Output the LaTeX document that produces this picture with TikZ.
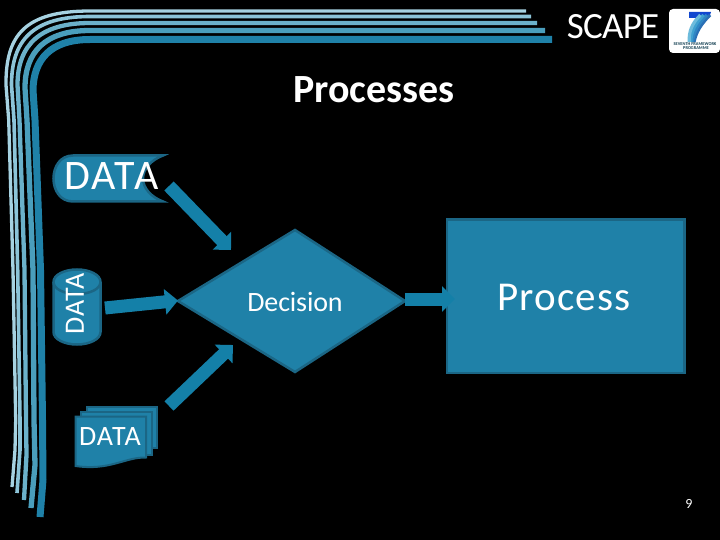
\documentclass[tikz,border=0pt]{standalone}
\usepackage{fontspec}
\setmainfont{Carlito}
\usetikzlibrary{arrows.meta}
\definecolor{fillb}{HTML}{1F81A8}
\definecolor{edgeb}{HTML}{1B6685}
\definecolor{arrowb}{HTML}{1480A8}
\definecolor{s1}{HTML}{A6D2E1}
\definecolor{s2}{HTML}{8CC4D8}
\definecolor{s3}{HTML}{6BB1CA}
\definecolor{s4}{HTML}{4A9EBC}
\definecolor{s5}{HTML}{1F81A8}
\newcommand{\fs}[1]{\fontsize{#1}{#1}\selectfont}
\tikzset{
  shapeb/.style={fill=fillb,draw=edgeb,line width=2.5pt,line join=miter},
  flow/.style={draw=arrowb,line width=13pt,-{Triangle[length=13pt,width=25pt]}},
  strip/.style={line cap=butt,line join=round},
  txt/.style={text=white,inner sep=0pt,outer sep=0pt,anchor=center}
}
\begin{document}
\begin{tikzpicture}[x=1pt,y=-1pt]
\fill[black] (0,0) rectangle (720,540);
\useasboundingbox (0,0) rectangle (720,540);
% corner strips
\draw[strip,s1,line width=3.3pt] (526,11) -- (90,11) .. controls (25,11) and (5.5,35) .. (6,85) -- (8.7,120) -- (13,270) -- (15.7,420) -- (15,450) -- (12,487);
\draw[strip,s2,line width=3.6pt] (531,16.5) -- (90,16.5) .. controls (33,16.5) and (11.5,40) .. (11.5,85) -- (14,120) -- (17.7,270) -- (20,420) -- (20,450) -- (17,493);
\draw[strip,s3,line width=4.3pt] (537,23) -- (90,23) .. controls (40,23) and (17.5,45) .. (17.5,85) -- (19.5,120) -- (24.5,270) -- (26,420) -- (26.5,455) -- (24,500);
\draw[strip,s4,line width=5.3pt] (545,30.5) -- (90,30.5) .. controls (45,30.5) and (25,52) .. (25,88) -- (27,120) -- (33,270) -- (34,420) -- (35,465) -- (31,508);
\draw[strip,s5,line width=7pt] (552,39.5) -- (90,39.5) .. controls (50,39.5) and (33.5,60) .. (33,90) -- (35,120) -- (40.5,270) -- (42.5,420) -- (43,480) -- (40,517);
% SCAPE + logo
\node[txt] (scape) at (613,27) {\fs{37}\addfontfeatures{LetterSpace=-2}SCAPE};
\fill[white,rounded corners=4pt] (669,9) rectangle (720,53);
\fill[blue!45!fillb] (689,12) -- (711,12) -- (709,18) -- (689,18) -- cycle;
\foreach \d/\c in {0/2A6FB5,4/2F86C4,8/3FA0D0,12/6DBBDC}{
  \definecolor{sv}{HTML}{\c}
  \draw[sv,line width=3.2pt] (710-\d*0.8,15) .. controls (701-\d*0.8,24) and (696-\d*0.6,32) .. (694-\d*0.4,42);
}
\node[txt,text=edgeb!60!black] (fp7a) at (695,44.5) {\fs{4.4}\bfseries SEVENTH FRAMEWORK};
\node[txt,text=edgeb!60!black] (fp7b) at (696,48.5) {\fs{4.4}\bfseries PROGRAMME};
% title
\node[txt] (title) at (374,90) {\fs{40}\bfseries Processes};
% horizontal database
\draw[shapeb] (163,155.5) -- (73,155.5) .. controls (60,155.5) and (53.5,167) .. (53.5,178.5) .. controls (53.5,190) and (60,201.5) .. (73,201.5) -- (163,201.5) .. controls (151,197) and (143,188) .. (143,178.5) .. controls (143,169) and (151,160) .. (163,155.5) -- cycle;
\node[txt] (dbh) at (111.5,176) {\fs{42}\addfontfeatures{LetterSpace=5}DATA};
% vertical database
\draw[shapeb] (53.5,282) -- (53.5,332) .. controls (53.5,339) and (64,344.5) .. (77,344.5) .. controls (90,344.5) and (100.5,339) .. (100.5,332) -- (100.5,282) .. controls (100.5,275) and (90,269.5) .. (77,269.5) .. controls (64,269.5) and (53.5,275) .. (53.5,282) -- cycle;
\draw[edgeb,line width=2.5pt] (53.5,282) .. controls (53.5,289) and (64,294) .. (77,294) .. controls (90,294) and (100.5,289) .. (100.5,282);
\node[txt,rotate=90] (dbv) at (75,304) {\fs{28}\addfontfeatures{LetterSpace=3}DATA};
% document stack
\draw[shapeb,line width=2pt] (87,406.5) -- (157,406.5) -- (157,448) -- (87,448) -- cycle;
\draw[shapeb,line width=2pt] (81,411.5) -- (152,411.5) -- (152,455) -- (81,455) -- cycle;
\draw[shapeb,line width=2pt] (75.5,416.5) -- (146,416.5) -- (146,457.5) .. controls (125,457) and (110,471) .. (75.5,466) -- cycle;
\node[txt] (docs) at (110,437) {\fs{28}\addfontfeatures{LetterSpace=4}DATA};
% decision diamond
\coordinate (decW) at (178,300.5);
\coordinate (decE) at (405,299);
\draw[shapeb] (295,230) -- (405,301) -- (295,372) -- (178,301) -- cycle;
\node[txt] (dec) at (295,302) {\fs{28}\addfontfeatures{LetterSpace=-0.5}Decision};
% process box
\node[shapeb,minimum width=237.5pt,minimum height=153pt,inner sep=0pt,anchor=north west] (proc) at (445.5,218.5) {};
\node[txt] (proctxt) at (564,297) {\fs{41}\addfontfeatures{LetterSpace=2.6}Process};
% connectors
\coordinate (a1s) at (169,186);
\coordinate (a1e) at (231,250);
\coordinate (a3s) at (169,406);
\coordinate (a3e) at (233,345);
\coordinate (a2s) at (105,308);
\coordinate (a4e) at (455,299);
\draw[flow] (a1s) -- (a1e);
\draw[flow] (a2s) -- (decW);
\draw[flow] (a3s) -- (a3e);
\draw[flow] (decE) -- (a4e);
\node[txt] (page) at (689,504) {\fs{14}9};
\end{tikzpicture}
\end{document}
